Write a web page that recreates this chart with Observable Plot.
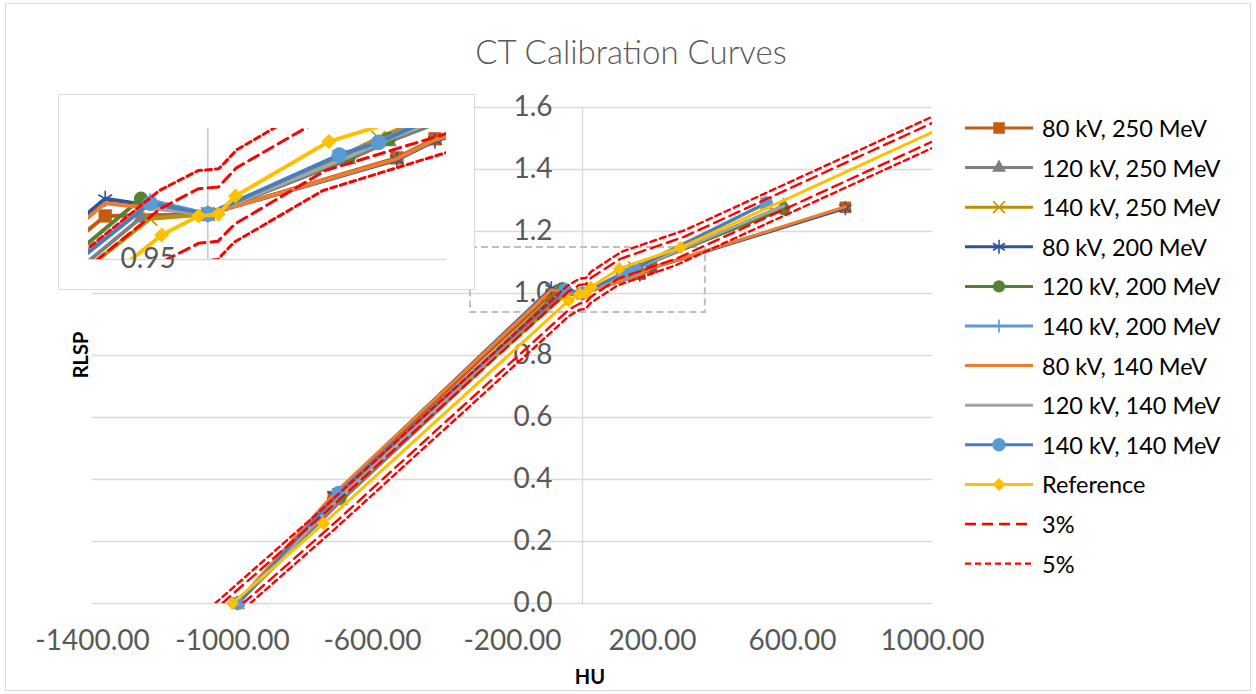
<!DOCTYPE html>
<html><head><meta charset="utf-8">
<script src="https://cdn.jsdelivr.net/npm/d3@7"></script>
<script src="https://cdn.jsdelivr.net/npm/@observablehq/plot@0.6"></script>
<style>
body{margin:0;background:#fff;}
#wrap{position:relative;width:1256px;height:694px;overflow:hidden;background:#fff;font-family:Lato,sans-serif;}
#main,#inset,#over{position:absolute;left:0;top:0;}
#inset{left:58px;top:94px;background:#fff;border:1px solid #d9d9d9;width:415px;height:194px;}
#over{pointer-events:none;}
</style></head>
<body><div id="wrap"><div id="main"></div><div id="inset"></div><svg id="over" width="1256" height="694"></svg></div>
<script>
// ---------- data ----------
const xTicks = [-1400, -1000, -600, -200, 200, 600, 1000];
const yTicks = [0, 0.2, 0.4, 0.6, 0.8, 1.0, 1.2, 1.4, 1.6];
const insetYTicks = [0.95];

const seriesNames = ["80 kV, 250 MeV", "120 kV, 250 MeV", "140 kV, 250 MeV",
  "80 kV, 200 MeV", "120 kV, 200 MeV", "140 kV, 200 MeV",
  "80 kV, 140 MeV", "120 kV, 140 MeV", "140 kV, 140 MeV"];

// HU per scan voltage (air, lung, adipose, water, tissue 1, tissue 2, bone)
const hu80  = [-988, -712, -89, 0, 164, 197, 751];
const hu120 = [-985, -690, -58, 0, 122, 157, 575];
const hu140 = [-983, -697, -50, 0, 114, 148, 525];

// RLSP per series
const rlsp80_250  = [0.001, 0.345, 0.998, 1.0, 1.062, 1.083, 1.278];
const rlsp120_250 = [0.001, 0.330, 0.996, 1.0, 1.060, 1.080, 1.284];
const rlsp140_250 = [0.001, 0.350, 0.995, 1.0, 1.063, 1.084, 1.290];
const rlsp80_200  = [0.001, 0.350, 1.017, 1.0, 1.060, 1.081, 1.275];
const rlsp120_200 = [0.001, 0.345, 1.017, 1.0, 1.062, 1.083, 1.272];
const rlsp140_200 = [0.001, 0.355, 1.015, 1.0, 1.065, 1.080, 1.292];
const rlsp80_140  = [0.001, 0.352, 1.012, 1.0, 1.061, 1.082, 1.280];
const rlsp120_140 = [0.001, 0.345, 1.008, 1.0, 1.063, 1.083, 1.283];
const rlsp140_140 = [0.001, 0.358, 1.012, 1.0, 1.065, 1.079, 1.292];

const refHU   = [-1000, -740, -40, -8, 9, 24, 105, 280, 1100];
const refRLSP = [0, 0.258, 0.977, 0.998, 1.0, 1.02, 1.08, 1.148, 1.572];

const up3HU   = [-1030, -762, -41.2, -8.2, 9.3, 24.7, 108.2, 288.4, 1133];
const up3RLSP = [0, 0.266, 1.006, 1.028, 1.03, 1.051, 1.112, 1.182, 1.619];
const lo3HU   = [-970, -718, -38.8, -7.8, 8.7, 23.3, 101.9, 271.6, 1067];
const lo3RLSP = [0, 0.250, 0.948, 0.968, 0.97, 0.989, 1.048, 1.114, 1.525];
const up5HU   = [-1050, -777, -42, -8.4, 9.5, 25.2, 110.3, 294, 1155];
const up5RLSP = [0, 0.271, 1.026, 1.048, 1.05, 1.071, 1.134, 1.205, 1.651];
const lo5HU   = [-950, -703, -38, -7.6, 8.6, 22.8, 99.8, 266, 1045];
const lo5RLSP = [0, 0.245, 0.928, 0.948, 0.95, 0.969, 1.026, 1.091, 1.493];

const zoomBox = [{x1: -320, x2: 351, y1: 0.939, y2: 1.148}];

// ---------- styles ----------
const seriesHU = [hu80, hu120, hu140, hu80, hu120, hu140, hu80, hu120, hu140];
const seriesRLSP = [rlsp80_250, rlsp120_250, rlsp140_250, rlsp80_200, rlsp120_200, rlsp140_200, rlsp80_140, rlsp120_140, rlsp140_140];
const lineColor = ["#C55A11", "#7F7F7F", "#BF9000", "#2F5597", "#548235", "#5B9BD5", "#ED7D31", "#A5A5A5", "#4A7EBB"];
const markFill  = ["#C55A11", "#7F7F7F", "none", "none", "#548235", "none", null, null, "#5B9BD5"];
const markSym   = ["square", "triangle", "times", "asterisk", "circle", "plus", null, null, "circle"];
const markR     = [6.5, 5.2, 5.5, 6.6, 6.2, 4.2, 0, 0, 6.8];
const refColor = "#FFC000";
const tolColor = "#FF0000";
const dash3 = "11,6", dash5 = "6,4";

function rows(hu, rl) { return hu.map((h, j) => ({hu: h, rlsp: rl[j]})); }

function seriesMarks(lw, scale, clipDots, maxHU) {
  const m = [];
  seriesNames.forEach((name, i) => {
    const data = rows(seriesHU[i], seriesRLSP[i]);
    m.push(Plot.line(data, {x: "hu", y: "rlsp", stroke: lineColor[i], strokeWidth: lw, clip: true}));
    if (markSym[i]) {
      const stroked = markFill[i] === "none";
      m.push(Plot.dot(data, {x: "hu", y: "rlsp", symbol: markSym[i], r: markR[i] * scale,
        fill: stroked ? "none" : markFill[i], stroke: stroked ? lineColor[i] : "none",
        strokeWidth: stroked ? 1.6 : 0, clip: clipDots}));
    }
  });
  const ref = rows(refHU, refRLSP);
  m.push(Plot.line(ref, {x: "hu", y: "rlsp", stroke: refColor, strokeWidth: lw, clip: true}));
  m.push(Plot.dot(ref, {x: "hu", y: "rlsp", filter: d => d.hu <= maxHU, symbol: "square", rotate: 45,
    r: 5.2 * scale, fill: refColor, clip: clipDots}));
  [[up3HU, up3RLSP, dash3], [lo3HU, lo3RLSP, dash3], [up5HU, up5RLSP, dash5], [lo5HU, lo5RLSP, dash5]].forEach(([h, r, da]) => {
    m.push(Plot.line(rows(h, r), {x: "hu", y: "rlsp", stroke: tolColor, strokeWidth: lw === 3 ? 2.4 : 3, strokeDasharray: da, clip: true}));
  });
  return m;
}

// ---------- main chart ----------
const main = Plot.plot({
  width: 1256, height: 694,
  marginLeft: 92, marginRight: 324, marginTop: 107, marginBottom: 91,
  x: {domain: [-1400, 1000], axis: null},
  y: {domain: [0, 1.6], axis: null},
  style: {fontFamily: "Lato, sans-serif", background: "transparent", overflow: "visible"},
  marks: [
    Plot.ruleY(yTicks, {y: d => d, stroke: "#D9D9D9", strokeWidth: 1.3}),
    Plot.ruleX([0], {x: d => d, y1: () => 0, y2: () => 1.6, stroke: "#D9D9D9", strokeWidth: 1.3}),
    Plot.text(yTicks, {x: () => 0, y: d => d, text: d => d.toFixed(1), textAnchor: "end", dx: -30, fontSize: 28, fill: "#595959"}),
    Plot.text(xTicks, {x: d => d, y: () => 0, dy: 38, text: d => d.toFixed(2), fontSize: 28, fill: "#595959"}),
    Plot.rect(zoomBox, {x1: "x1", x2: "x2", y1: "y1", y2: "y2", fill: "none", stroke: "#BFBFBF", strokeWidth: 2, strokeDasharray: "7,4"}),
    ...seriesMarks(3, 1, false, 1000)
  ]
});
document.getElementById("main").appendChild(main);

// ---------- inset ----------
const inset = Plot.plot({
  width: 415, height: 194,
  marginLeft: 29, marginRight: 28, marginTop: 33, marginBottom: 30,
  x: {domain: [-103.5, 207], axis: null},
  y: {domain: [0.95, 1.0944], axis: null},
  style: {fontFamily: "Lato, sans-serif", background: "#fff", overflow: "visible"},
  marks: [
    Plot.ruleY(insetYTicks, {y: d => d, stroke: "#D9D9D9", strokeWidth: 1.3}),
    Plot.ruleX([0], {x: d => d, stroke: "#BFBFBF", strokeWidth: 1.3}),
    ...seriesMarks(4, 1.15, true, 1000),
    Plot.text(insetYTicks, {x: () => 0, y: d => d, text: d => d.toFixed(2), textAnchor: "end", dx: -32, fontSize: 28, fill: "#595959"})
  ]
});
document.getElementById("inset").appendChild(inset);

// ---------- title, axis titles, legend ----------
const over = d3.select("#over");
over.append("rect").attr("x", 5.5).attr("y", 3.5).attr("width", 1245).attr("height", 687)
  .attr("fill", "none").attr("stroke", "#D9D9D9");
over.append("text").attr("x", 631).attr("y", 51).attr("text-anchor", "middle").attr("dominant-baseline", "central")
  .attr("font-size", 33).attr("font-weight", 300).attr("fill", "#595959").text("CT Calibration Curves");
over.append("text").attr("transform", "translate(80,355) rotate(-90)").attr("text-anchor", "middle")
  .attr("dominant-baseline", "central").attr("font-size", 20).attr("font-weight", 700).attr("fill", "#000").text("RLSP");
over.append("text").attr("x", 590).attr("y", 676).attr("text-anchor", "middle").attr("dominant-baseline", "central")
  .attr("font-size", 20).attr("font-weight", 700).attr("fill", "#000").text("HU");

const symMap = {square: d3.symbolSquare, triangle: d3.symbolTriangle, times: d3.symbolTimes,
  asterisk: d3.symbolAsterisk, circle: d3.symbolCircle, plus: d3.symbolPlus};
const legendItems = seriesNames.map((n, i) => ({name: n, color: lineColor[i], sym: markSym[i], fill: markFill[i], r: markR[i]}))
  .concat([{name: "Reference", color: refColor, sym: "diamond", fill: refColor, r: 5.2},
           {name: "3%", color: tolColor, dash: dash3},
           {name: "5%", color: tolColor, dash: dash5}]);
legendItems.forEach((it, i) => {
  const y = 128 + i * 39.6;
  const g = over.append("g");
  g.append("line").attr("x1", 965).attr("x2", 1033).attr("y1", y).attr("y2", y)
    .attr("stroke", it.color).attr("stroke-width", it.dash ? 2.4 : 3).attr("stroke-dasharray", it.dash || null);
  if (it.sym) {
    const area = Math.PI * it.r * it.r;
    const type = it.sym === "diamond" ? d3.symbolSquare : symMap[it.sym];
    const stroked = it.fill === "none";
    g.append("path").attr("d", d3.symbol(type, area)())
      .attr("transform", `translate(999,${y})` + (it.sym === "diamond" ? " rotate(45)" : ""))
      .attr("fill", stroked ? "none" : it.fill).attr("stroke", stroked ? it.color : "none").attr("stroke-width", 1.6);
  }
  g.append("text").attr("x", 1042).attr("y", y).attr("dominant-baseline", "central")
    .attr("font-size", 23.5).attr("fill", "#000").text(it.name);
});
</script></body></html>
